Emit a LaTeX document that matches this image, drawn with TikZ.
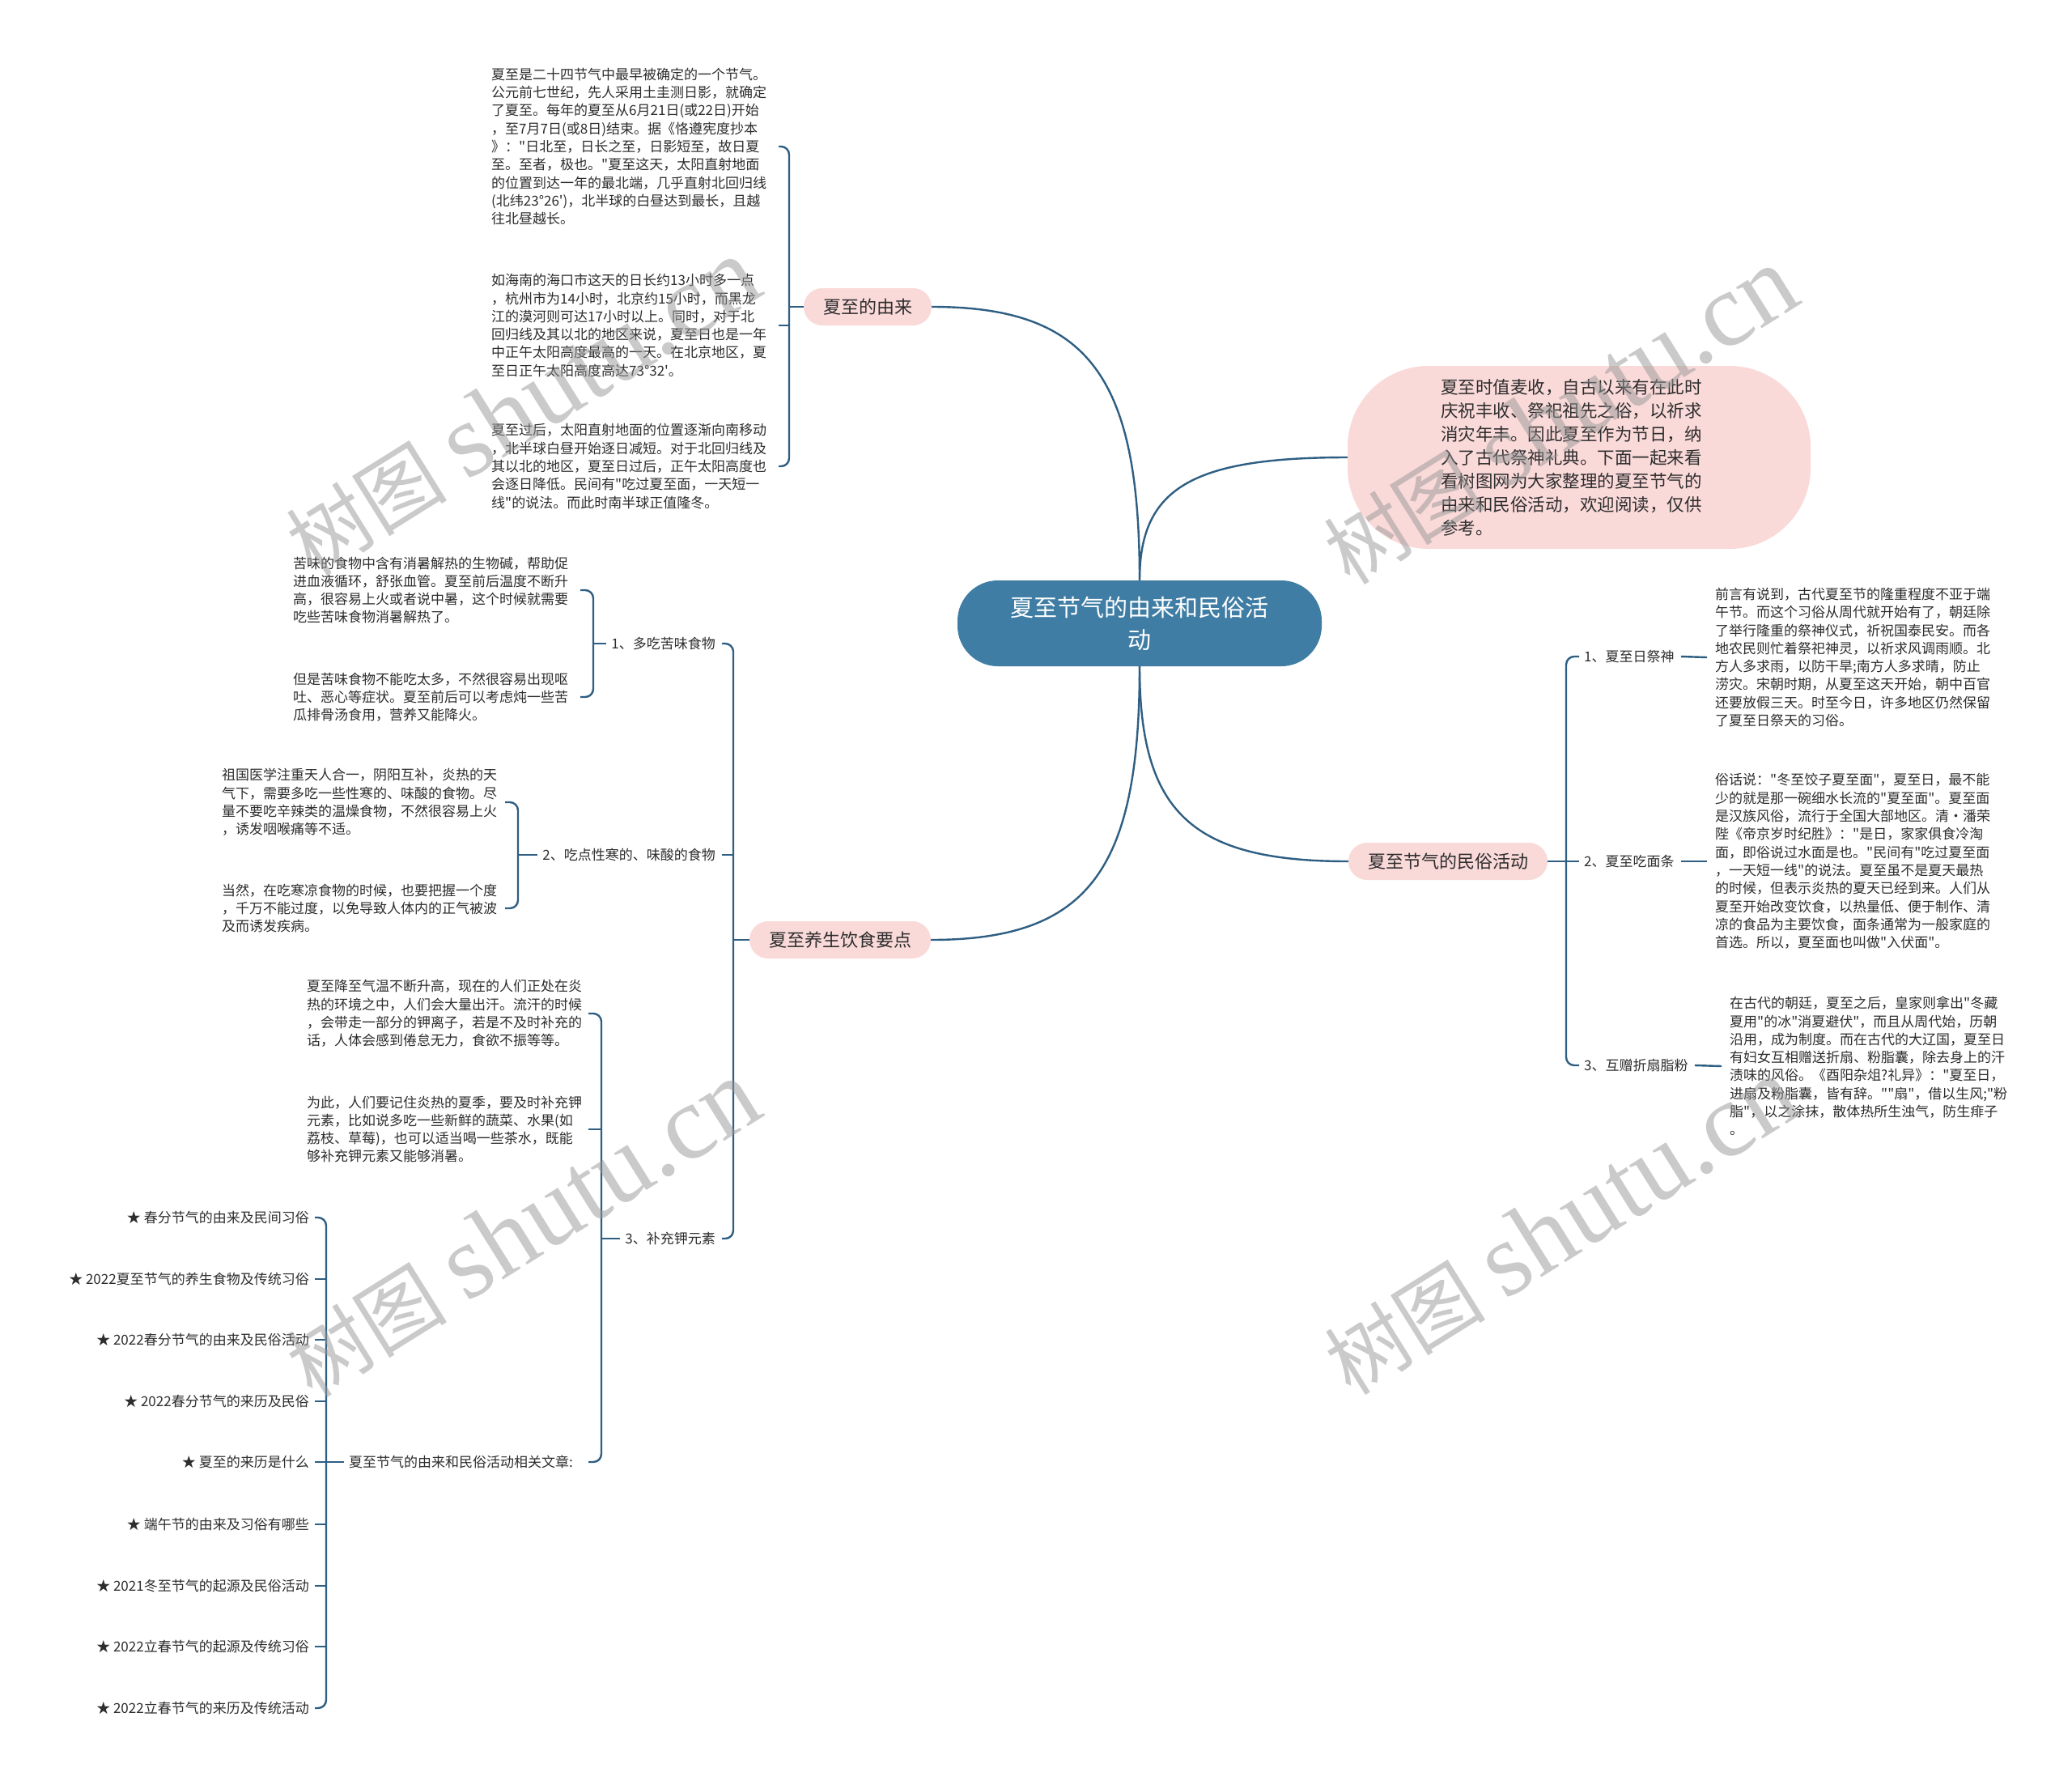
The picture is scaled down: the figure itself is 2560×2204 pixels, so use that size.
\documentclass[tikz,border=0pt]{standalone}
\usepackage{fontspec}
\newfontfamily\cjk{Noto Sans CJK SC}
\newfontfamily\wmlatin{Liberation Serif}
\usetikzlibrary{calc}
\definecolor{lineblue}{RGB}{46,94,130}
\definecolor{rootblue}{RGB}{63,125,164}
\definecolor{pinkfill}{RGB}{250,217,217}
\definecolor{txtgray}{RGB}{45,45,45}
\definecolor{wmgray}{RGB}{150,150,150}
\begin{document}
\begin{tikzpicture}[x=1pt,y=-1pt,
  blk/.style={inner sep=0pt, anchor=west, align=left, font=\cjk\fontsize{17}{22.3}\selectfont, text=txtgray},
  lbl/.style={inner sep=0pt, font=\cjk\fontsize{17}{20}\selectfont, text=txtgray},
  pill/.style={fill=pinkfill, rounded corners=23pt, minimum height=46pt, inner xsep=24pt, inner ysep=0pt, font=\cjk\fontsize{22}{26}\selectfont, text=txtgray},
  conn/.style={draw=lineblue, line width=2.4pt},
  wm/.style={text=wmgray, opacity=0.5, rotate=32, inner sep=0pt}
]
\fill[white] (0,0) rectangle (2560,2204);
\useasboundingbox (0,0) rectangle (2560,2204);

% root
\node[fill=rootblue, rounded corners=50pt, minimum width=450pt, minimum height=106pt, inner sep=0pt, align=center, text=white, font=\cjk\fontsize{29}{40}\selectfont] (root) at (1408,770) {夏至节气的由来和民俗活\\动};

% intro
\node[fill=pinkfill, rounded corners=100pt, minimum width=572pt, minimum height=226pt, inner sep=0pt, text width=342pt, align=left, text=txtgray, font=\cjk\fontsize{21.5}{29}\selectfont] (intro) at (1951,565) {夏至时值麦收，自古以来有在此时\\庆祝丰收、祭祀祖先之俗，以祈求\\消灾年丰。因此夏至作为节日，纳\\入了古代祭神礼典。下面一起来看\\看树图网为大家整理的夏至节气的\\由来和民俗活动，欢迎阅读，仅供\\参考。};

% level 1
\node[pill] (youlai) at (1072,379) {夏至的由来};
\node[pill] (minsu) at (1789,1064) {夏至节气的民俗活动};
\node[pill] (yangsheng) at (1038,1161) {夏至养生饮食要点};

\draw[conn] (root.north) .. controls ($(root.north)!0.75!(root.north |- youlai.east)$) and ($(youlai.east)!0.75!(root.north |- youlai.east)$) .. (youlai.east);
\draw[conn] (root.north) .. controls ($(root.north)!0.75!(root.north |- intro.west)$) and ($(intro.west)!0.75!(root.north |- intro.west)$) .. (intro.west);
\draw[conn] (root.south) .. controls ($(root.south)!0.75!(root.south |- minsu.west)$) and ($(minsu.west)!0.75!(root.south |- minsu.west)$) .. (minsu.west);
\draw[conn] (root.south) .. controls ($(root.south)!0.75!(root.south |- yangsheng.east)$) and ($(yangsheng.east)!0.75!(root.south |- yangsheng.east)$) .. (yangsheng.east);

% 夏至的由来
\node[blk] (y1) at (607,181) {夏至是二十四节气中最早被确定的一个节气。\\公元前七世纪，先人采用土圭测日影，就确定\\了夏至。每年的夏至从6月21日(或22日)开始\\，至7月7日(或8日)结束。据《恪遵宪度抄本\\》："日北至，日长之至，日影短至，故日夏\\至。至者，极也。"夏至这天，太阳直射地面\\的位置到达一年的最北端，几乎直射北回归线\\(北纬23°26')，北半球的白昼达到最长，且越\\往北昼越长。};
\node[blk] (y2) at (607,402) {如海南的海口市这天的日长约13小时多一点\\，杭州市为14小时，北京约15小时，而黑龙\\江的漠河则可达17小时以上。同时，对于北\\回归线及其以北的地区来说，夏至日也是一年\\中正午太阳高度最高的一天。在北京地区，夏\\至日正午太阳高度高达73°32'。};
\node[blk] (y3) at (607,576) {夏至过后，太阳直射地面的位置逐渐向南移动\\，北半球白昼开始逐日减短。对于北回归线及\\其以北的地区，夏至日过后，正午太阳高度也\\会逐日降低。民间有"吃过夏至面，一天短一\\线"的说法。而此时南半球正值隆冬。};
\coordinate (byl) at (962,0);
\coordinate (byx) at (975,379);
\draw[conn,rounded corners=10pt] (y1.east -| byl) -| (byx) |- (y3.east -| byl);
\draw[conn] (y2.east -| byl) -- (y2.east -| byx);
\draw[conn] (byx) -- (youlai.west);

% 夏至养生饮食要点
\node[lbl, anchor=east] (k1) at (884,795) {1、多吃苦味食物};
\node[lbl, anchor=east] (k2) at (884,1056) {2、吃点性寒的、味酸的食物};
\node[lbl, anchor=east] (k3) at (884,1530) {3、补充钾元素};
\coordinate (bys) at (906,1161);
\coordinate (bysl) at (892,0);
\draw[conn,rounded corners=10pt] (k1.east -| bysl) -| (bys) |- (k3.east -| bysl);
\draw[conn] (k2.east -| bysl) -- (k2.east -| bys);
\draw[conn] (bys) -- (yangsheng.west);

% 1 苦
\node[blk] (ka) at (362,729) {苦味的食物中含有消暑解热的生物碱，帮助促\\进血液循环，舒张血管。夏至前后温度不断升\\高，很容易上火或者说中暑，这个时候就需要\\吃些苦味食物消暑解热了。};
\node[blk] (kb) at (362,861) {但是苦味食物不能吃太多，不然很容易出现呕\\吐、恶心等症状。夏至前后可以考虑炖一些苦\\瓜排骨汤食用，营养又能降火。};
\coordinate (bk) at (733,795);
\coordinate (bkl) at (717,0);
\draw[conn,rounded corners=10pt] (ka.east -| bkl) -| (bk) |- (kb.east -| bkl);
\draw[conn] (bk) -- ([xshift=-6pt]k1.west);

% 2 寒
\node[blk] (ha) at (274,991) {祖国医学注重天人合一，阴阳互补，炎热的天\\气下，需要多吃一些性寒的、味酸的食物。尽\\量不要吃辛辣类的温燥食物，不然很容易上火\\，诱发咽喉痛等不适。};
\node[blk] (hb) at (274,1122) {当然，在吃寒凉食物的时候，也要把握一个度\\，千万不能过度，以免导致人体内的正气被波\\及而诱发疾病。};
\coordinate (bh) at (640,1056);
\coordinate (bhl) at (624,0);
\draw[conn,rounded corners=10pt] (ha.east -| bhl) -| (bh) |- (hb.east -| bhl);
\draw[conn] (bh) -- ([xshift=-6pt]k2.west);

% 3 钾
\node[blk] (ja) at (379,1252) {夏至降至气温不断升高，现在的人们正处在炎\\热的环境之中，人们会大量出汗。流汗的时候\\，会带走一部分的钾离子，若是不及时补充的\\话，人体会感到倦怠无力，食欲不振等等。};
\node[blk] (jb) at (379,1395) {为此，人们要记住炎热的夏季，要及时补充钾\\元素，比如说多吃一些新鲜的蔬菜、水果(如\\荔枝、草莓)，也可以适当喝一些茶水，既能\\够补充钾元素又能够消暑。};
\node[lbl, anchor=west] (rel) at (431,1806) {夏至节气的由来和民俗活动相关文章:};
\coordinate (bj) at (743,1530);
\coordinate (bjl) at (727,0);
\draw[conn,rounded corners=10pt] (ja.east -| bjl) -| (bj) |- (rel.east -| bjl);
\draw[conn] (jb.east -| bjl) -- (jb.east -| bj);
\draw[conn] (bj) -- ([xshift=-6pt]k3.west);

% related articles
\node[lbl, anchor=east] (a1) at (382,1504) {★ 春分节气的由来及民间习俗};
\node[lbl, anchor=east] (a2) at (382,1580) {★ 2022夏至节气的养生食物及传统习俗};
\node[lbl, anchor=east] (a3) at (382,1655) {★ 2022春分节气的由来及民俗活动};
\node[lbl, anchor=east] (a4) at (382,1731) {★ 2022春分节气的来历及民俗};
\node[lbl, anchor=east] (a5) at (382,1806) {★ 夏至的来历是什么};
\node[lbl, anchor=east] (a6) at (382,1883) {★ 端午节的由来及习俗有哪些};
\node[lbl, anchor=east] (a7) at (382,1959) {★ 2021冬至节气的起源及民俗活动};
\node[lbl, anchor=east] (a8) at (382,2034) {★ 2022立春节气的起源及传统习俗};
\node[lbl, anchor=east] (a9) at (382,2110) {★ 2022立春节气的来历及传统活动};
\coordinate (br) at (403,1806);
\coordinate (brl) at (389,0);
\draw[conn,rounded corners=10pt] (a1.east -| brl) -| (br) |- (a9.east -| brl);
\foreach \i in {a2,a3,a4,a5,a6,a7,a8} \draw[conn] (\i.east -| brl) -- (\i.east -| br);
\draw[conn] (br) -- ([xshift=-6pt]rel.west);

% 民俗活动
\node[lbl, anchor=west] (m1) at (1957,811) {1、夏至日祭神};
\node[lbl, anchor=west] (m2) at (1957,1064) {2、夏至吃面条};
\node[lbl, anchor=west] (m3) at (1957,1316) {3、互赠折扇脂粉};
\coordinate (bm) at (1935,1064);
\coordinate (bml) at (1951,0);
\draw[conn,rounded corners=10pt] (m1.west -| bml) -| (bm) |- (m3.west -| bml);
\draw[conn] (minsu.east) -- (m2.west -| bml);
\node[blk] (r1) at (2119,812) {前言有说到，古代夏至节的隆重程度不亚于端\\午节。而这个习俗从周代就开始有了，朝廷除\\了举行隆重的祭神仪式，祈祝国泰民安。而各\\地农民则忙着祭祀神灵，以祈求风调雨顺。北\\方人多求雨，以防干旱;南方人多求晴，防止\\涝灾。宋朝时期，从夏至这天开始，朝中百官\\还要放假三天。时至今日，许多地区仍然保留\\了夏至日祭天的习俗。};
\node[blk] (r2) at (2119,1064) {俗话说："冬至饺子夏至面"，夏至日，最不能\\少的就是那一碗细水长流的"夏至面"。夏至面\\是汉族风俗，流行于全国大部地区。清·潘荣\\陛《帝京岁时纪胜》："是日，家家俱食冷淘\\面，即俗说过水面是也。"民间有"吃过夏至面\\，一天短一线"的说法。夏至虽不是夏天最热\\的时候，但表示炎热的夏天已经到来。人们从\\夏至开始改变饮食，以热量低、便于制作、清\\凉的食品为主要饮食，面条通常为一般家庭的\\首选。所以，夏至面也叫做"入伏面"。};
\node[blk] (r3) at (2137,1317) {在古代的朝廷，夏至之后，皇家则拿出"冬藏\\夏用"的冰"消夏避伏"，而且从周代始，历朝\\沿用，成为制度。而在古代的大辽国，夏至日\\有妇女互相赠送折扇、粉脂囊，除去身上的汗\\渍味的风俗。《酉阳杂俎?礼异》："夏至日，\\进扇及粉脂囊，皆有辞。""扇"，借以生风;"粉\\脂"，以之涂抹，散体热所生浊气，防生痱子\\。};
\draw[conn] ([xshift=8pt]m1.east) -- ([xshift=-10pt]r1.west);
\draw[conn] ([xshift=8pt]m2.east) -- ([xshift=-10pt]r2.west);
\draw[conn] ([xshift=8pt]m3.east) -- ([xshift=-10pt]r3.west);

% watermarks
\foreach \p/\n in {{(645,503)}/wm1,{(1927,514)}/wm2,{(645,1518)}/wm3,{(1928,1515)}/wm4}
  \node[wm] (\n) at \p {{\cjk\fontsize{100}{100}\selectfont 树图}\hspace{25pt}{\wmlatin\fontsize{130}{130}\selectfont shutu.cn}};
\end{tikzpicture}
\end{document}
